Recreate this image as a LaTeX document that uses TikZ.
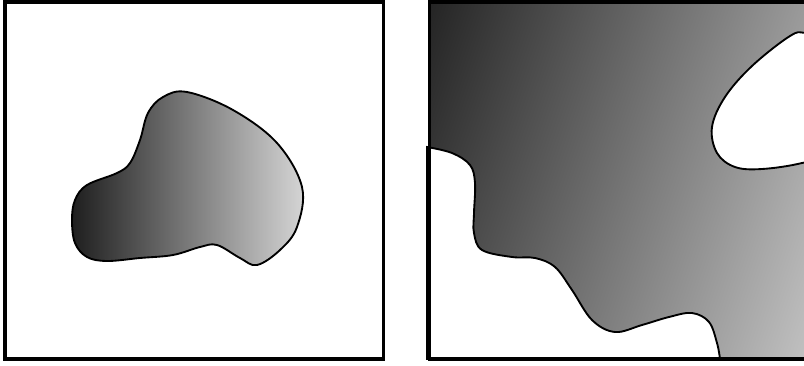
\documentclass[tikz,border=0pt]{standalone}
\usepackage{tikz}
\usetikzlibrary{calc}

\begin{document}
\begin{tikzpicture}[
  x=0.75pt, y=-0.75pt,
  frame/.style={draw=black, line width=2.6pt},
  outline/.style={draw=black, line width=1.4pt},
  blobshade/.style={left color=black!88, right color=black!16},
  fieldshade/.style={left color=black!86, right color=black!21}
]
  \useasboundingbox (0,0) rectangle (804,365);
  \clip (0,0) rectangle (804,365);

  % left panel: a single shaded blob
  \shade[blobshade, outline] plot[smooth cycle, tension=0.6] coordinates {
    (163,97) (187,92) (233,110) (277,143) (302,187) (297,227) (280,250)
    (257,265) (240,258) (217,245) (200,247) (173,255) (140,258) (107,261)
    (87,257) (75,243) (72,220) (75,200) (87,185) (117,173) (130,163)
    (140,140) (148,113)};
  \draw[frame] (5,2) rectangle (383.5,359);

  % right panel: shaded field with a white shore and a white hole
  \begin{scope}
    \clip (429.5,2) rectangle (860,359);
    \begin{scope}[transform canvas={rotate around={-19:(428,3)}}]
      \shade[fieldshade] (428,-200) rectangle (928,450);
    \end{scope}
  \end{scope}
  \path[fill=white, outline] plot[smooth, tension=0.6] coordinates {
    (427,147) (452,153) (470,165) (475,183) (474,213) (474,233) (482,250)
    (512,257) (535,258) (555,267) (572,290) (592,320) (615,332) (642,325)
    (669,317) (692,313) (709,322) (717,343) (720,359)}
    -- (427,359) -- cycle;
  \path[fill=white, outline] plot[smooth cycle, tension=0.6] coordinates {
    (790,36) (752,66) (725,97) (712,127) (717,153) (735,167) (762,169)
    (802,163) (840,150) (850,90) (840,40) (806,33)};
  \draw[frame] (429.5,2) rectangle (860,359);
\end{tikzpicture}
\end{document}
